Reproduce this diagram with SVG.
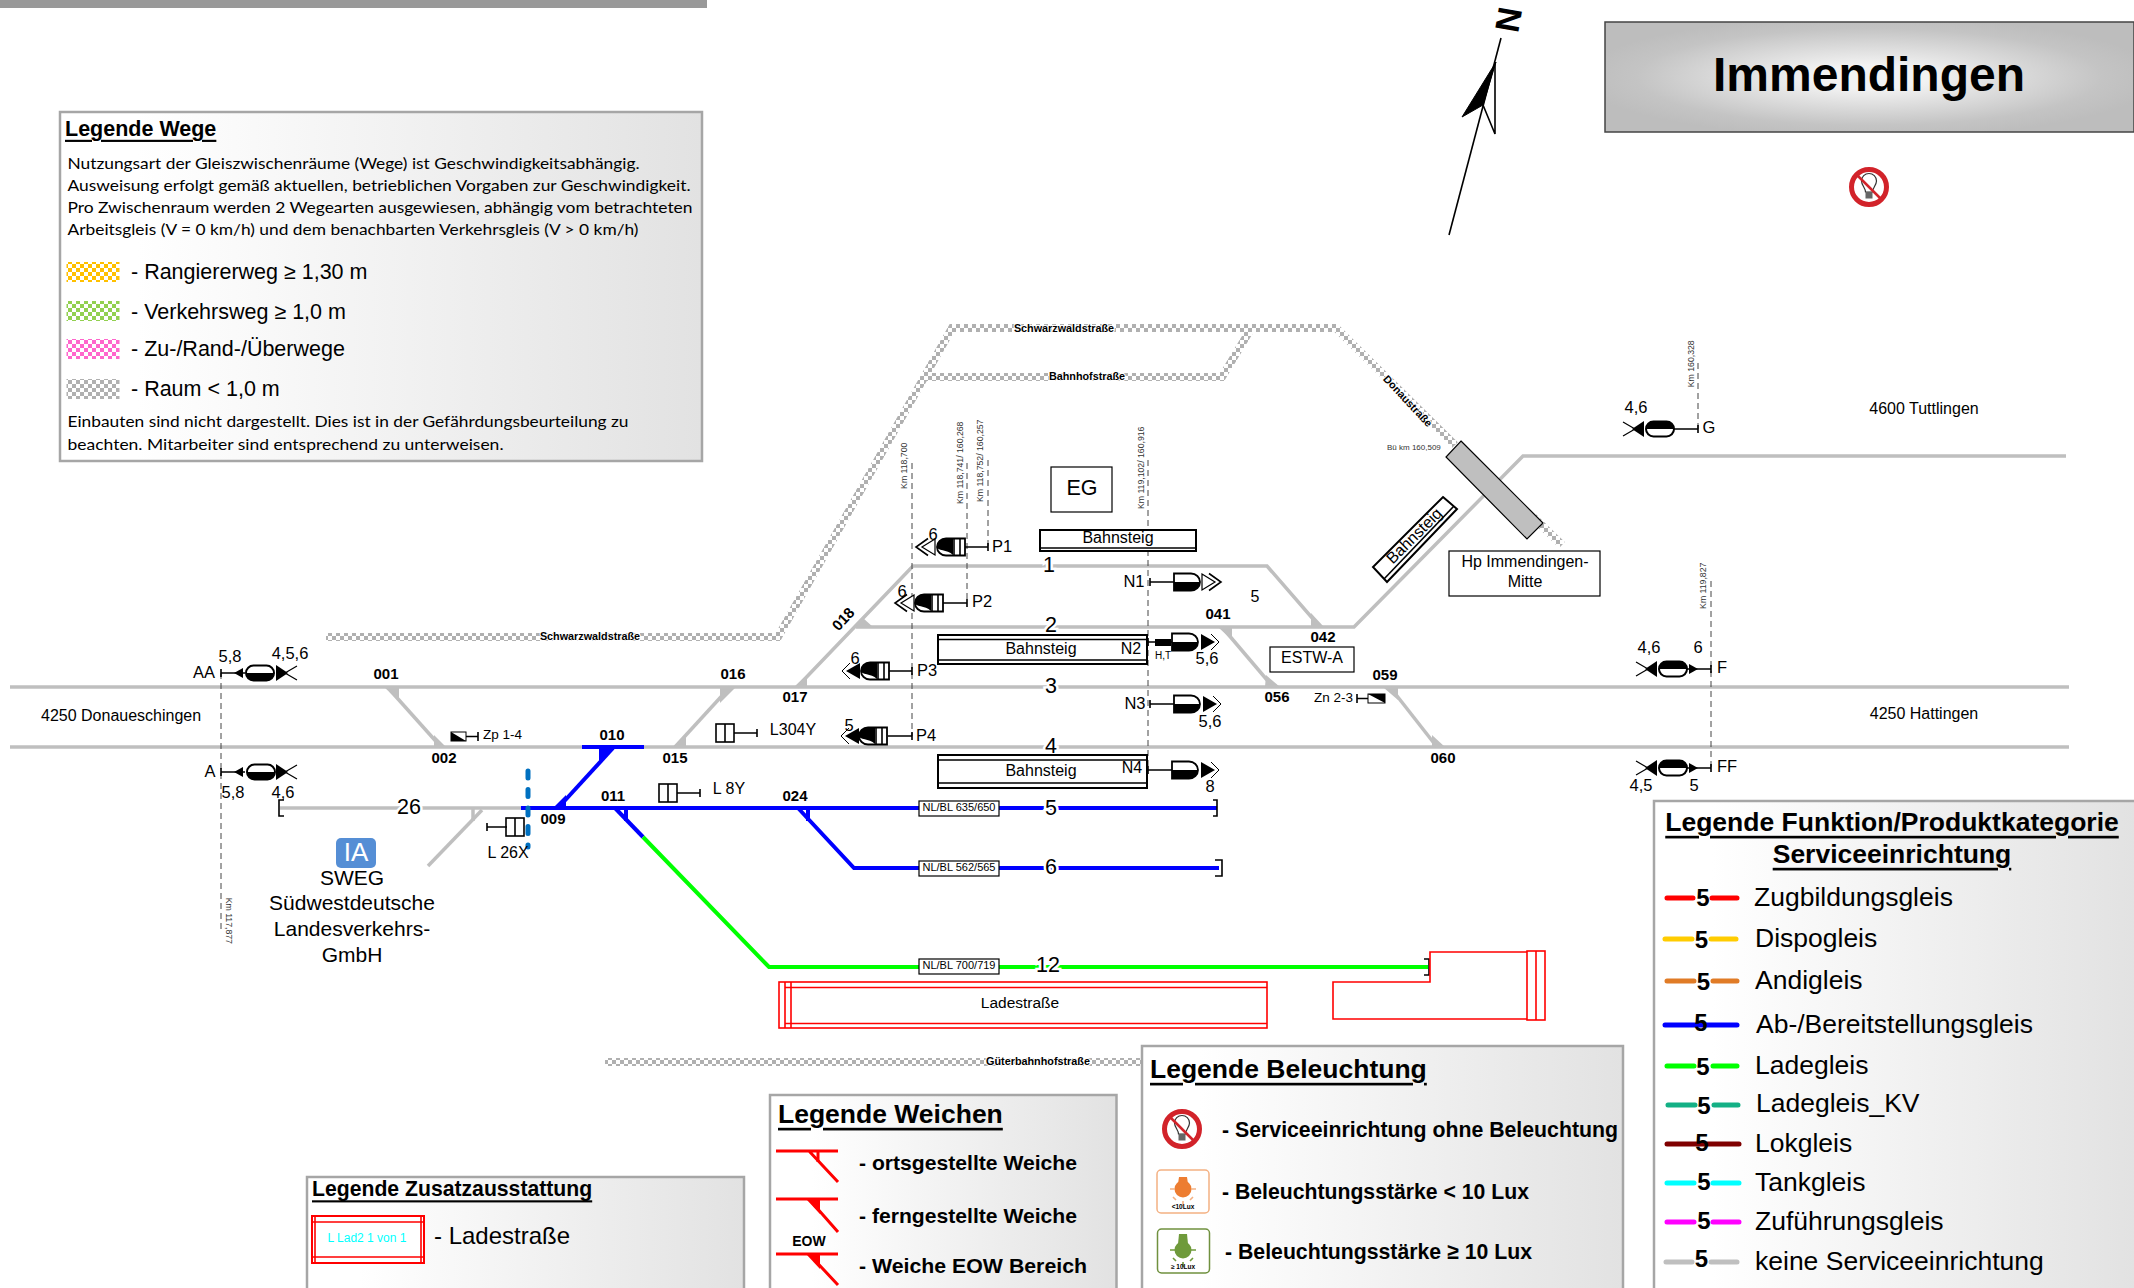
<svg xmlns="http://www.w3.org/2000/svg" width="2134" height="1288" viewBox="0 0 2134 1288">
<style>
text{font-family:"Liberation Sans",Arial,sans-serif;fill:#000;dominant-baseline:central;translate:0 -1.2px}
.c{text-anchor:middle}
.b{font-weight:bold}
.u{text-decoration:underline}
.s15{font-size:16.5px}.s16{font-size:16px}.s20{font-size:21.500px}.s26{font-size:26.5px}
.sw{font-weight:bold;font-size:15px;text-anchor:middle}
.km{font-size:8.700px;text-anchor:middle;fill:#333}
.road{font-size:10.800px;font-weight:bold;text-anchor:middle;paint-order:stroke;stroke:#fff;stroke-width:2px}
.num{font-size:21.500px;text-anchor:middle;paint-order:stroke;stroke:#fff;stroke-width:5px}
.body{font-family:Lato,"Noto Sans",sans-serif;font-size:16px}
.leg{stroke:#a6a6a6;stroke-width:2.5;fill:url(#lg)}
.gt{fill:none;stroke:#bfbfbf;stroke-width:3.5}
.bt{fill:none;stroke:#0000ff;stroke-width:4}
.grt{fill:none;stroke:#00ff00;stroke-width:4}
.gf{fill:#bfbfbf}.bf{fill:#0000ff}
.road-line{fill:none;stroke:url(#chk);stroke-width:8}
.dash{stroke:#444;stroke-width:1;stroke-dasharray:6 4;fill:none}
.k{fill:none;stroke:#000;stroke-width:1.6}
.kf{fill:#000;stroke:#000;stroke-width:1}
.plat{fill:#fff;stroke:#000;stroke-width:2}
.box{fill:#fff;stroke:#000;stroke-width:1.2}
.red{fill:none;stroke:#ff0000;stroke-width:1.6}
.rl{fill:none;stroke-width:5;stroke-linecap:round}
.n5{font-size:24px;font-weight:bold;text-anchor:middle}
.ft{font-size:26.5px}
.wk{stroke:#ff0000;stroke-width:3;fill:none}
</style>
<defs>
<linearGradient id="lg" x1="0" y1="0" x2="1" y2="0"><stop offset="0.12" stop-color="#fff"/><stop offset="1" stop-color="#e2e2e2"/></linearGradient>
<radialGradient id="tg" cx="0.5" cy="0.5" r="0.55"><stop offset="0.2" stop-color="#f2f2f2"/><stop offset="0.8" stop-color="#c4c4c4"/><stop offset="1" stop-color="#bdbdbd"/></radialGradient>
<pattern id="chk" width="8" height="8" patternUnits="userSpaceOnUse"><rect width="8" height="8" fill="#fff"/><rect width="4" height="4" fill="#b0b0b0"/><rect x="4" y="4" width="4" height="4" fill="#b0b0b0"/></pattern>
<pattern id="py" width="8" height="8" patternUnits="userSpaceOnUse"><rect width="8" height="8" fill="#fff"/><rect width="4" height="4" fill="#ffc000"/><rect x="4" y="4" width="4" height="4" fill="#ffc000"/></pattern>
<pattern id="pg" width="8" height="8" patternUnits="userSpaceOnUse"><rect width="8" height="8" fill="#fff"/><rect width="4" height="4" fill="#92d050"/><rect x="4" y="4" width="4" height="4" fill="#92d050"/></pattern>
<pattern id="pp" width="8" height="8" patternUnits="userSpaceOnUse"><rect width="8" height="8" fill="#fff"/><rect width="4" height="4" fill="#ff66cc"/><rect x="4" y="4" width="4" height="4" fill="#ff66cc"/></pattern>
<g id="mast"><path class="k" d="M0,-4V4M0,0H24"/></g>
<g id="dHead"><path d="M0,-8.5H17A9,8.5 0 0 1 17,8.5H0Z" fill="#fff" stroke="#000" stroke-width="1.8"/><path d="M0,0H26A9,8.5 0 0 1 17,8.5H0Z" fill="#000"/></g>
<g id="triO"><path d="M0,-8L13,0L0,8Z" fill="#fff" stroke="#000" stroke-width="1.2"/><path class="k" stroke-width="1" d="M7,-8.5L19,0L7,8.5"/></g>
<g id="triF"><path d="M0,-8L14,0L0,8Z" fill="#000"/><path d="M10,-8L18,0L10,8" fill="none" stroke="#000" stroke-width="1"/></g>
<g id="pHead"><path d="M0,-8.5H19A9,8.5 0 0 1 19,8.5H0Z" fill="#fff" stroke="#000" stroke-width="1.8"/><path d="M12,-8.5H19A9,8.5 0 0 1 28,0C28,4 18,2 12,8Z" fill="#000"/><path class="k" d="M5,-8.5V8.5M11,-8.5V8.5"/></g>
<g id="tail"><path d="M0,-8V8L12,0Z" fill="#000"/><path d="M21,-7L9,0L21,7" fill="none" stroke="#000" stroke-width="1.2"/></g>
<g id="smallTri"><path d="M13,0L22,-5V5Z" fill="#000"/></g>
<g id="ovalLow"><rect x="0" y="-7.5" width="28" height="15" rx="7.5" fill="#fff" stroke="#000" stroke-width="2"/><path d="M0,0H28A7.5,7.5 0 0 1 20.5,7.5H7.5A7.5,7.5 0 0 1 0,0Z" fill="#000"/></g>
<g id="ovalUp"><rect x="0" y="-7.5" width="28" height="15" rx="7.5" fill="#fff" stroke="#000" stroke-width="2"/><path d="M0,0H28A7.5,7.5 0 0 0 20.5,-7.5H7.5A7.5,7.5 0 0 0 0,0Z" fill="#000"/></g>
<g id="lockBox"><rect x="-17" y="-9" width="18" height="18" fill="#fff" stroke="#000" stroke-width="1.6"/><path class="k" d="M-8,-9V9"/></g>
<g id="nolight"><circle r="17.5" fill="#fff" stroke="#d2232a" stroke-width="5"/><path d="M-3.5,5C-3.5,1 -7.5,-2 -7.5,-6A7.5,7.5 0 1 1 7.5,-6C7.5,-2 3.5,1 3.5,5Z" fill="#fff" stroke="#333" stroke-width="1.2"/><rect x="-3.5" y="5" width="7" height="6.5" fill="#666"/><path d="M-12,-12L12,12" stroke="#d2232a" stroke-width="2.5"/></g>
<g id="rays"><path d="M-13,0H-8M8,0H13M-10,8L-7,11M10,8L7,11M0,12V17" fill="none" stroke-width="1.6"/></g>
</defs>

<rect id="topbar" x="0" y="0" width="707" height="8" fill="#999"/>

<g id="roads">
<path class="road-line" d="M326,637H778L952,328H1336L1455,445"/>
<path class="road-line" d="M926,377H1222L1249,332"/>
<path class="road-line" d="M1533,517L1562,545"/>
<path class="road-line" d="M605,1062H1142"/>
<text class="road" x="590" y="637">Schwarzwaldstraße</text>
<text class="road" x="1064" y="329">Schwarzwaldstraße</text>
<text class="road" x="1087" y="377">Bahnhofstraße</text>
<text class="road" x="1038" y="1062">Güterbahnhofstraße</text>
<text class="road" x="1408" y="402" transform="rotate(47 1408 402)">Donaustraße</text>
</g>

<g id="connectors">
<path class="gt" d="M10,687H2069"/>
<path class="gt" d="M10,747H2069"/>
<path class="gt" d="M797,687L913,566H1267L1320,627"/>
<path class="gt" d="M856,627H1354L1523,456H2066"/>
<path class="gt" d="M390,690L441,747"/>
<path class="gt" d="M730,687L675,747"/>
<path class="gt" d="M1222,627L1273,687"/>
<path class="gt" d="M1390,687L1437,747"/>
<path class="gt" d="M280,808H521"/>
<path class="gt" d="M482,810L428,866"/>
<path class="k" stroke-width="1.8" d="M284,800H279V816H284"/>
<path class="bt" d="M521,808H1217"/>
<path class="bt" d="M582,747H644"/>
<path class="bt" d="M558,808L613,748"/>
<path class="bt" d="M615,808L643,837"/>
<path class="bt" d="M798,808L854,868H1219"/>
<path class="grt" d="M643,837L769,967H1428"/>
<path class="k" stroke-width="1.8" d="M1213,800H1217V816H1213"/>
<path class="k" stroke-width="1.8" d="M1215,860H1222V876H1215"/>
<path class="k" stroke-width="1.8" d="M1424,959H1429V975H1424"/>
<path d="M528,771V847" fill="none" stroke="#0070c0" stroke-width="5" stroke-linecap="round" stroke-dasharray="7 11.5"/>
<path class="dash" d="M221,673V929"/>
<path class="dash" d="M912,463V736"/>
<path class="dash" d="M967,463V603"/>
<path class="dash" d="M988,460V547"/>
<path class="dash" d="M1148,460V770"/>
<path class="dash" d="M1698,363V429"/>
<path class="dash" d="M1711,581V768"/>
</g>

<g id="km-labels">
<text class="km" transform="translate(229 922) rotate(90)">Km 117,877</text>
<text class="km" transform="translate(904 467) rotate(-90)">Km 118,700</text>
<text class="km" transform="translate(960 464) rotate(-90)">Km 118,741/ 160,268</text>
<text class="km" transform="translate(980 462) rotate(-90)">Km 118,752/ 160,257</text>
<text class="km" transform="translate(1141 469) rotate(-90)">Km 119,102/ 160,916</text>
<text class="km" transform="translate(1691 365) rotate(-90)">Km 160,328</text>
<text class="km" transform="translate(1703 587) rotate(-90)">Km 119,827</text>
</g>

<g id="switches">
<g id="w001"><path class="gf" d="M384,687H399V701Z"/><text class="sw" x="386" y="675">001</text></g>
<g id="w002"><path class="gf" d="M434,735V747H446Z"/><text class="sw" x="444" y="759">002</text></g>
<g id="w009"><path class="bf" d="M553,808H566V795Z"/><text class="sw" x="553" y="820">009</text></g>
<g id="w010"><path class="bf" d="M599,747H613L599,761Z"/><text class="sw" x="612" y="736">010</text></g>
<g id="w011"><path class="bt" stroke-width="2" d="M626,808V821"/><text class="sw" x="613" y="797">011</text></g>
<g id="w015"><path class="gf" d="M686,736V747H673Z"/><text class="sw" x="675" y="759">015</text></g>
<g id="w016"><path class="gf" d="M720,688H735L720,703Z"/><text class="sw" x="733" y="675">016</text></g>
<g id="w017"><path class="gf" d="M807,675V687H794Z"/><text class="sw" x="795" y="698">017</text></g>
<g id="w018"><path class="gf" d="M863,618L857,627H873Z"/><text class="sw" transform="translate(843 620) rotate(-47)">018</text></g>
<g id="w024"><path class="bt" stroke-width="2" d="M808,808V821"/><text class="sw" x="795" y="797">024</text></g>
<g id="w041"><path class="gf" d="M1219,628H1232V640Z"/><text class="sw" x="1218" y="615">041</text></g>
<g id="w042"><path class="gf" d="M1311,613V627H1324Z"/><text class="sw" x="1323" y="638">042</text></g>
<g id="w056"><path class="gf" d="M1266,675L1265,687H1280Z"/><text class="sw" x="1277" y="698">056</text></g>
<g id="w059"><path class="gf" d="M1384,688H1398V700Z"/><text class="sw" x="1385" y="676">059</text></g>
<g id="w060"><path class="gf" d="M1432,735V747H1445Z"/><text class="sw" x="1443" y="759">060</text></g>
<path class="gt" stroke-width="2" d="M473,808V821"/>
</g>

<g id="track-numbers">
<text class="num" x="1049" y="566">1</text>
<text class="num" x="1051" y="626">2</text>
<text class="num" x="1051" y="687">3</text>
<text class="num" x="1051" y="747">4</text>
<text class="num" x="1051" y="809">5</text>
<text class="num" x="1051" y="868">6</text>
<text class="num" x="1048" y="966">12</text>
<text class="num" x="409" y="808">26</text>
<text class="s16 c" x="1255" y="598">5</text>
</g>

<g id="nlbl">
<g id="nl5"><rect class="box" x="919" y="801" width="80" height="15"/><text class="c" font-size="11" x="959" y="808.5">NL/BL 635/650</text></g>
<g id="nl6"><rect class="box" x="919" y="861" width="80" height="15"/><text class="c" font-size="11" x="959" y="868.5">NL/BL 562/565</text></g>
<g id="nl12"><rect class="box" x="919" y="959" width="80" height="15"/><text class="c" font-size="11" x="959" y="966.5">NL/BL 700/719</text></g>
</g>

<g id="buildings">
<g id="eg"><rect class="box" x="1051" y="467" width="61" height="45"/><text class="c" font-size="21.500" x="1082" y="489">EG</text></g>
<g id="bs1"><rect class="plat" x="1040" y="530" width="156" height="21"/><path class="k" d="M1040,548H1196"/><text class="c s16" x="1118" y="539">Bahnsteig</text></g>
<g id="bs2"><rect class="plat" x="938" y="635" width="209" height="29"/><path class="k" d="M938,639.500H1147M938,660H1147"/><text class="c s16" x="1041" y="650">Bahnsteig</text><text class="c s16" x="1131" y="650">N2</text></g>
<g id="bs4"><rect class="plat" x="938" y="755" width="209" height="33"/><path class="k" d="M938,760H1147M938,783H1147"/><text class="c s16" x="1041" y="772">Bahnsteig</text><text class="c s16" x="1132" y="769">N4</text></g>
<g id="bs3"><path class="plat" d="M1443,497L1457,509L1387,582L1373,567Z"/><path class="k" d="M1454,506L1384,579"/><text class="c s16" transform="translate(1414 537) rotate(-45)">Bahnsteig</text></g>
<g id="estw"><rect class="box" x="1270" y="647" width="84" height="25"/><text class="c s16" x="1312" y="659">ESTW-A</text></g>
<g id="hp"><rect class="box" x="1449" y="551" width="151" height="45"/><text class="c s16" x="1525" y="563">Hp Immendingen-</text><text class="c s16" x="1525" y="583">Mitte</text></g>
<g id="bue"><path d="M1461,441L1543,523L1527,539L1446,457Z" fill="#bfbfbf" stroke="#000" stroke-width="1.2"/><text font-size="8" x="1387" y="449" style="fill:#333">Bü km 160,509</text></g>
</g>

<g id="ladestrasse">
<rect class="red" x="779" y="982" width="488" height="46"/>
<path class="red" d="M785,982V1028M791,982V1028"/>
<path class="red" stroke-width="3" d="M785,987.500H1267M785,1023.500H1267"/>
<text class="c" font-size="15.500" x="1020" y="1004">Ladestraße</text>
<path class="red" stroke-width="2" d="M1527,952H1430V982H1333V1019H1527"/>
<rect class="red" x="1527" y="951" width="18" height="69"/>
<path class="red" d="M1536,951V1020"/>
</g>

<g id="signals">
<g id="sN1"><use href="#mast" x="1150" y="582"/><use href="#dHead" x="1174" y="582"/><use href="#triO" x="1202" y="582"/><text class="s15 c" x="1134" y="582">N1</text></g>
<g id="sN2"><use href="#mast" x="1148" y="642"/><rect x="1155" y="639" width="16" height="7" fill="#000"/><use href="#dHead" x="1172" y="642"/><use href="#triF" x="1201" y="642"/><text class="c" font-size="10" x="1163" y="657">H,T</text><text class="s15 c" x="1207" y="659">5,6</text></g>
<g id="sN3"><use href="#mast" x="1150" y="704"/><use href="#dHead" x="1174" y="704"/><use href="#triF" x="1203" y="704"/><text class="s15 c" x="1135" y="704">N3</text><text class="s15 c" x="1210" y="722">5,6</text></g>
<g id="sN4"><use href="#mast" x="1148" y="770"/><use href="#dHead" x="1172" y="770"/><use href="#triF" x="1201" y="770"/><text class="s15 c" x="1210" y="787">8</text></g>
<g id="sP1"><use href="#mast" transform="translate(988 547) scale(-1 1)"/><use href="#pHead" transform="translate(965 547) scale(-1 1)"/><use href="#triO" transform="translate(935 547) scale(-1 1)"/><text class="s15 c" x="933" y="535">6</text><text class="s15 c" x="1002" y="547">P1</text></g>
<g id="sP2"><use href="#mast" transform="translate(967 603) scale(-1 1)"/><use href="#pHead" transform="translate(943 603) scale(-1 1)"/><use href="#triO" transform="translate(914 603) scale(-1 1)"/><text class="s15 c" x="902" y="592">6</text><text class="s15 c" x="982" y="602">P2</text></g>
<g id="sP3"><use href="#mast" transform="translate(912 671) scale(-1 1)"/><use href="#pHead" transform="translate(889 671) scale(-1 1)"/><use href="#triF" transform="translate(860 671) scale(-1 1)"/><text class="s15 c" x="855" y="659">6</text><text class="s15 c" x="927" y="671">P3</text></g>
<g id="sP4"><use href="#mast" transform="translate(912 736) scale(-1 1)"/><use href="#pHead" transform="translate(887 736) scale(-1 1)"/><use href="#triF" transform="translate(859 736) scale(-1 1)"/><text class="s15 c" x="849" y="726">5</text><text class="s15 c" x="926" y="736">P4</text></g>
<g id="sAA"><use href="#mast" x="221" y="673"/><use href="#smallTri" x="221" y="673"/><use href="#ovalLow" x="246" y="673"/><use href="#tail" x="276" y="673"/><text class="s15 c" x="204" y="673">AA</text><text class="s15 c" x="230" y="657">5,8</text><text class="s15 c" x="290" y="654">4,5,6</text></g>
<g id="sA"><use href="#mast" x="221" y="772"/><use href="#smallTri" x="221" y="772"/><use href="#ovalLow" x="247" y="772"/><use href="#tail" x="276" y="772"/><text class="s15 c" x="210" y="772">A</text><text class="s15 c" x="233" y="793">5,8</text><text class="s15 c" x="283" y="793">4,6</text></g>
<g id="sG"><use href="#mast" transform="translate(1698 429) scale(-1 1)"/><use href="#ovalUp" x="1646" y="429"/><use href="#tail" transform="translate(1644 429) scale(-1 1)"/><text class="s15 c" x="1636" y="408">4,6</text><text class="s15 c" x="1709" y="428">G</text></g>
<g id="sF"><use href="#mast" transform="translate(1711 669) scale(-1 1)"/><use href="#smallTri" transform="translate(1711 669) scale(-1 1)"/><use href="#ovalUp" x="1659" y="669"/><use href="#tail" transform="translate(1657 669) scale(-1 1)"/><text class="s15 c" x="1649" y="648">4,6</text><text class="s15 c" x="1698" y="648">6</text><text class="s15 c" x="1722" y="668">F</text></g>
<g id="sFF"><use href="#mast" transform="translate(1711 768) scale(-1 1)"/><use href="#smallTri" transform="translate(1711 768) scale(-1 1)"/><use href="#ovalUp" x="1659" y="768"/><use href="#tail" transform="translate(1657 768) scale(-1 1)"/><text class="s15 c" x="1641" y="786">4,5</text><text class="s15 c" x="1694" y="786">5</text><text class="s15 c" x="1727" y="767">FF</text></g>
<g id="sL304Y"><use href="#lockBox" x="733" y="733"/><path class="k" d="M734,733H757M757,729V737"/><text class="s16 c" x="793" y="731">L304Y</text></g>
<g id="sL8Y"><use href="#lockBox" x="676" y="793"/><path class="k" d="M677,793H700M700,789V797"/><text class="s16 c" x="729" y="790">L 8Y</text></g>
<g id="sL26X"><use href="#lockBox" transform="translate(507 827) scale(-1 1)"/><path class="k" d="M507,827H487M487,823V831"/><text class="s16 c" x="508" y="854">L 26X</text></g>
<g id="sZp"><rect x="451" y="732" width="15" height="9" fill="#fff" stroke="#000" stroke-width="1"/><path d="M451,732L466,741H451Z" fill="#000"/><path class="k" stroke-width="1" d="M466,736.500H478M478,732V741"/><text font-size="13.500" x="483" y="736">Zp 1-4</text></g>
<g id="sZn"><rect x="1368" y="694" width="17" height="9" fill="#fff" stroke="#000" stroke-width="1"/><path d="M1368,694H1385V703Z" fill="#000"/><path class="k" stroke-width="1" d="M1357,698.500H1368M1357,694V703"/><text font-size="13.500" x="1314" y="699">Zn 2-3</text></g>
</g>

<g id="places">
<text class="s16" x="41" y="717">4250 Donaueschingen</text>
<text class="s16 c" x="1924" y="715">4250 Hattingen</text>
<text class="s16 c" x="1924" y="410">4600 Tuttlingen</text>
<g id="sweg">
<rect x="336" y="838" width="40" height="30" rx="5" fill="#558ed5"/>
<text class="c" font-size="26" style="fill:#fff" x="356" y="853">IA</text>
<text class="c" font-size="21" x="352" y="879">SWEG</text>
<text class="c" font-size="21" x="352" y="904">Südwestdeutsche</text>
<text class="c" font-size="21" x="352" y="930">Landesverkehrs-</text>
<text class="c" font-size="21" x="352" y="956">GmbH</text>
</g>
</g>

<g id="north">
<path class="k" stroke-width="2" d="M1449,235L1501,38"/>
<path d="M1496,62L1462,117L1483,105Z" fill="#000" stroke="#000"/>
<path class="k" d="M1495,62V134L1483,105"/>
<text class="b" font-size="34" transform="translate(1509 21) rotate(100)" text-anchor="middle">N</text>
</g>

<g id="title">
<rect x="1605" y="22" width="529" height="110" fill="url(#tg)" stroke="#444" stroke-width="1.5"/>
<text class="b c" font-size="48" x="1869" y="76">Immendingen</text>
<use href="#nolight" x="1869" y="187"/>
</g>

<g id="legende-wege">
<rect class="leg" x="60" y="112" width="642" height="349"/>
<text class="b u" font-size="21.500" x="65" y="130">Legende Wege</text>
<text class="body" x="67.500" y="164" textLength="572" lengthAdjust="spacingAndGlyphs">Nutzungsart der Gleiszwischenräume (Wege) ist Geschwindigkeitsabhängig.</text>
<text class="body" x="67.500" y="186" textLength="623" lengthAdjust="spacingAndGlyphs">Ausweisung erfolgt gemäß aktuellen, betrieblichen Vorgaben zur Geschwindigkeit.</text>
<text class="body" x="67.500" y="208" textLength="625" lengthAdjust="spacingAndGlyphs">Pro Zwischenraum werden 2 Wegearten ausgewiesen, abhängig vom betrachteten</text>
<text class="body" x="67.500" y="230" textLength="571" lengthAdjust="spacingAndGlyphs">Arbeitsgleis (V = 0 km/h) und dem benachbarten Verkehrsgleis (V &gt; 0 km/h)</text>
<rect x="66.500" y="262" width="53" height="20" fill="url(#py)"/><text class="s20" x="131" y="273">- Rangiererweg ≥ 1,30 m</text>
<rect x="66.500" y="301" width="53" height="20" fill="url(#pg)"/><text class="s20" x="131" y="313">- Verkehrsweg ≥ 1,0 m</text>
<rect x="66.500" y="339" width="53" height="20" fill="url(#pp)"/><text class="s20" x="131" y="350">- Zu-/Rand-/Überwege</text>
<rect x="66.500" y="379" width="53" height="20" fill="url(#chk)"/><text class="s20" x="131" y="390">- Raum &lt; 1,0 m</text>
<text class="body" x="67.500" y="422" textLength="561" lengthAdjust="spacingAndGlyphs">Einbauten sind nicht dargestellt. Dies ist in der Gefährdungsbeurteilung zu</text>
<text class="body" x="67.500" y="445" textLength="436" lengthAdjust="spacingAndGlyphs">beachten. Mitarbeiter sind entsprechend zu unterweisen.</text>
</g>

<g id="legende-funktion">
<rect class="leg" x="1654" y="801" width="482" height="490"/>
<text class="b u c ft" x="1892" y="823">Legende Funktion/Produktkategorie</text>
<text class="b u c ft" x="1892" y="855">Serviceeinrichtung</text>
<g><path class="rl" stroke="#ff0000" d="M1667,898H1693M1712,898H1737"/><text class="n5" x="1703" y="899">5</text><text class="ft" x="1754" y="898">Zugbildungsgleis</text></g>
<g><path class="rl" stroke="#ffcc00" d="M1665,939H1692M1711,939H1736"/><text class="n5" x="1701.500" y="941">5</text><text class="ft" x="1755" y="939">Dispogleis</text></g>
<g><path class="rl" stroke="#e07b26" d="M1667,981H1694M1713,981H1737"/><text class="n5" x="1703.500" y="983">5</text><text class="ft" x="1755" y="981">Andigleis</text></g>
<g><path class="rl" stroke="#0000ff" d="M1665,1025H1737"/><text class="n5" x="1701" y="1024">5</text><text class="ft" x="1756" y="1025">Ab-/Bereitstellungsgleis</text></g>
<g><path class="rl" stroke="#00ff00" d="M1667,1066H1694M1713,1066H1737"/><text class="n5" x="1703" y="1068">5</text><text class="ft" x="1755" y="1066">Ladegleis</text></g>
<g><path class="rl" stroke="#13b085" d="M1668,1105H1695M1714,1105H1738"/><text class="n5" x="1704" y="1107">5</text><text class="ft" x="1756" y="1104">Ladegleis_KV</text></g>
<g><path class="rl" stroke="#7f0000" d="M1667,1144H1739"/><text class="n5" x="1702" y="1144">5</text><text class="ft" x="1755" y="1144">Lokgleis</text></g>
<g><path class="rl" stroke="#00ffff" d="M1667,1183H1694M1713,1183H1739"/><text class="n5" x="1704" y="1183">5</text><text class="ft" x="1755" y="1183">Tankgleis</text></g>
<g><path class="rl" stroke="#ff00ff" d="M1667,1222H1694M1713,1222H1739"/><text class="n5" x="1704" y="1222">5</text><text class="ft" x="1755" y="1222">Zuführungsgleis</text></g>
<g><path class="rl" stroke="#bfbfbf" d="M1666,1262H1692M1711,1262H1737"/><text class="n5" x="1701.500" y="1260">5</text><text class="ft" x="1755" y="1262">keine Serviceeinrichtung</text></g>
</g>

<g id="legende-beleuchtung">
<rect class="leg" x="1142" y="1046" width="481" height="245"/>
<text class="b u ft" x="1150" y="1070" font-size="26.7">Legende Beleuchtung</text>
<use href="#nolight" x="1182" y="1129"/>
<text class="b" font-size="22" x="1222" y="1131" textLength="396" lengthAdjust="spacingAndGlyphs">- Serviceeinrichtung ohne Beleuchtung</text>
<g id="lux-low">
<rect x="1157" y="1170" width="52" height="43" rx="4" fill="#fff" stroke="#f4b183" stroke-width="1.5"/>
<circle cx="1183" cy="1189" r="8.500" fill="#ed7d31"/><path d="M1179,1177H1187L1188,1184H1178Z" fill="#ed7d31"/>
<use href="#rays" x="1183" y="1189" stroke="#f4b183"/>
<text class="c b" font-size="6.500" x="1183" y="1208">&lt;10Lux</text>
</g>
<text class="b" font-size="22" x="1222" y="1193" textLength="307" lengthAdjust="spacingAndGlyphs">- Beleuchtungsstärke &lt; 10 Lux</text>
<g id="lux-high">
<rect x="1157.500" y="1229" width="52" height="44" rx="4" fill="#fff" stroke="#70913f" stroke-width="1.5"/>
<circle cx="1183" cy="1250" r="8.500" fill="#6f9a3b"/><path d="M1179,1234H1187L1188,1244H1178Z" fill="#6f9a3b"/>
<use href="#rays" x="1183" y="1250" stroke="#6f9a3b"/>
<text class="c b" font-size="6.500" x="1183" y="1268">≥ 10Lux</text>
</g>
<text class="b" font-size="22" x="1225" y="1253" textLength="307" lengthAdjust="spacingAndGlyphs">- Beleuchtungsstärke ≥ 10 Lux</text>
</g>

<g id="legende-weichen">
<rect class="leg" x="770" y="1095" width="346.500" height="196"/>
<text class="b u ft" x="778" y="1115">Legende Weichen</text>
<g><path class="wk" d="M776,1151H838M809,1151L838,1182"/><path class="wk" stroke-width="2" d="M818,1151V1162"/><text class="b" font-size="20.500" x="859" y="1164" textLength="218" lengthAdjust="spacingAndGlyphs">- ortsgestellte Weiche</text></g>
<g><path class="wk" d="M776,1199H838M809,1199L838,1232"/><path d="M806,1199H820V1214Z" fill="#ff0000"/><text class="b" font-size="20.500" x="859" y="1217" textLength="218" lengthAdjust="spacingAndGlyphs">- ferngestellte Weiche</text></g>
<text class="b c" font-size="14" x="809" y="1242">EOW</text>
<g><path class="wk" d="M776,1254H838M809,1254L838,1285"/><path d="M806,1254H820V1269Z" fill="#ff0000"/><text class="b" font-size="20.500" x="859" y="1267" textLength="228" lengthAdjust="spacingAndGlyphs">- Weiche EOW Bereich</text></g>
</g>

<g id="legende-zusatz">
<rect class="leg" x="307" y="1177" width="437" height="114"/>
<text class="b u" font-size="21.200" x="312" y="1190">Legende Zusatzausstattung</text>
<rect x="312" y="1216" width="112" height="47" fill="#fff" stroke="#ff0000" stroke-width="2"/>
<path class="red" stroke-width="3" d="M312,1222H424M312,1257H424"/>
<path class="red" d="M315,1216V1263M421,1216V1263"/>
<text class="c" font-size="12" style="fill:#00ffff" x="367" y="1239">L Lad2 1 von 1</text>
<text font-size="24" x="434" y="1237">- Ladestraße</text>
</g>
</svg>
